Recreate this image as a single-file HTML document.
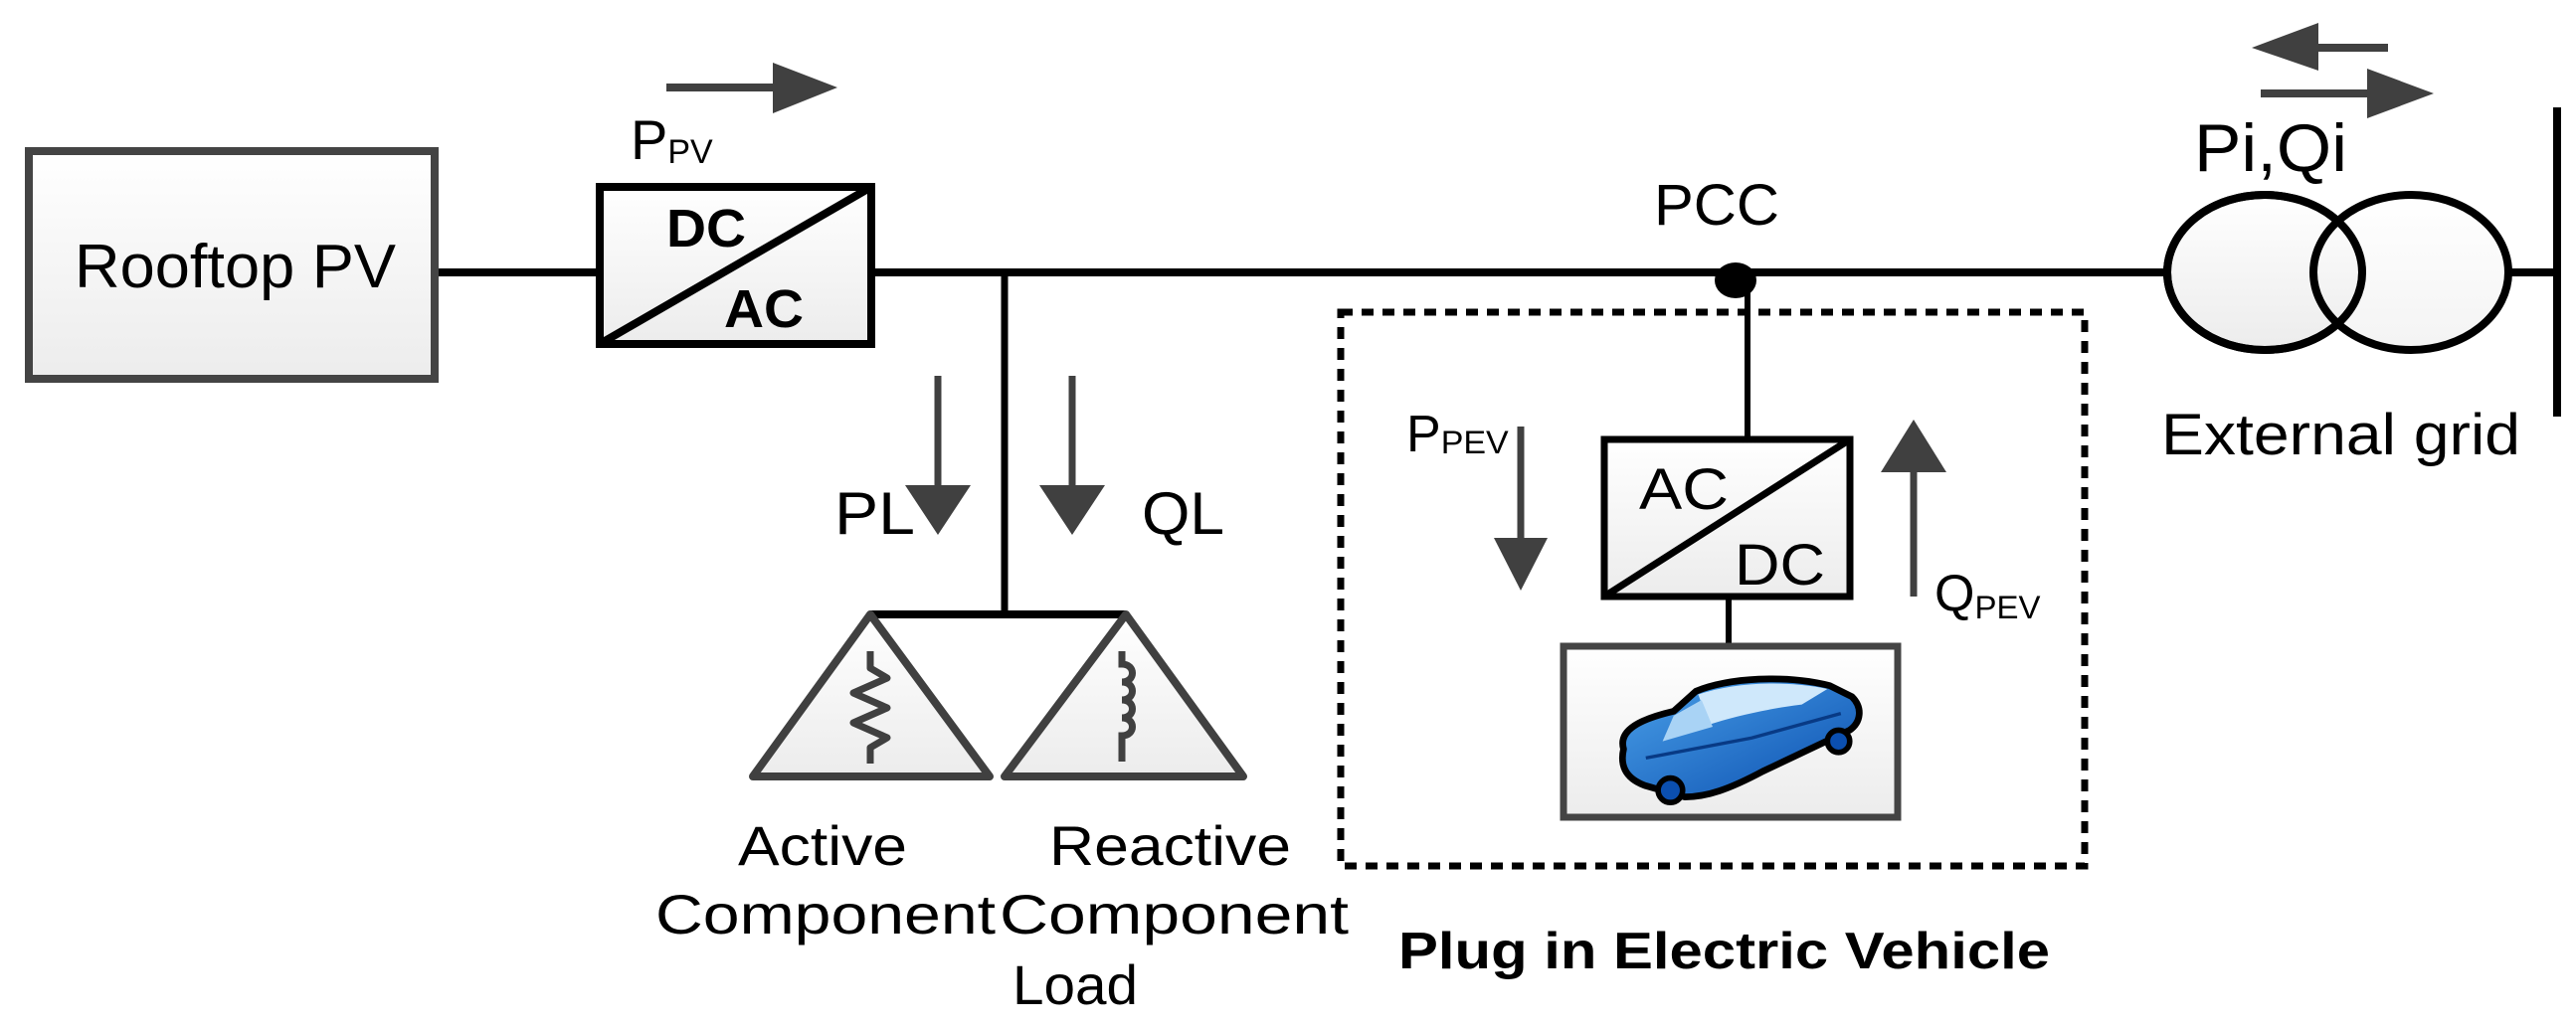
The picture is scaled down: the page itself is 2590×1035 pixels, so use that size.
<!DOCTYPE html>
<html><head><meta charset="utf-8"><style>html,body{margin:0;padding:0;background:#fff}svg{display:block}</style></head>
<body>
<svg width="2590" height="1035" viewBox="0 0 2590 1035" xmlns="http://www.w3.org/2000/svg" font-family="Liberation Sans, sans-serif">
<defs>
<linearGradient id="g" x1="0" y1="0" x2="0" y2="1"><stop offset="0" stop-color="#ffffff"/><stop offset="1" stop-color="#ececec"/></linearGradient>
<linearGradient id="cb" x1="0" y1="0" x2="1" y2="1"><stop offset="0" stop-color="#4aa0e8"/><stop offset="1" stop-color="#0b4fb0"/></linearGradient>
</defs>
<line x1="437" y1="274" x2="603" y2="274" stroke="#000" stroke-width="8"/>
<line x1="876" y1="274" x2="2180" y2="274" stroke="#000" stroke-width="8"/>
<line x1="2522" y1="274" x2="2571" y2="274" stroke="#000" stroke-width="8"/>
<line x1="2571" y1="108" x2="2571" y2="419" stroke="#000" stroke-width="8"/>
<rect x="29" y="152" width="408" height="229" fill="url(#g)" stroke="#444" stroke-width="8"/>
<text x="75" y="289" font-size="62" textLength="323" lengthAdjust="spacingAndGlyphs" fill="#000">Rooftop PV</text>
<rect x="603" y="188" width="273" height="158" fill="url(#g)" stroke="#000" stroke-width="8"/>
<line x1="603" y1="346" x2="876" y2="188" stroke="#000" stroke-width="8"/>
<text x="670" y="248" font-size="54" font-weight="bold" textLength="80" lengthAdjust="spacingAndGlyphs">DC</text>
<text x="728" y="329" font-size="54" font-weight="bold" textLength="80" lengthAdjust="spacingAndGlyphs">AC</text>
<text x="634" y="160" font-size="56">P<tspan font-size="34" dy="4">PV</tspan></text>
<line x1="670" y1="88" x2="790" y2="88" stroke="#404040" stroke-width="8"/>
<polygon points="777,63 842,88 777,114" fill="#404040"/>
<line x1="1010" y1="274" x2="1010" y2="618" stroke="#000" stroke-width="7"/>
<line x1="875" y1="618" x2="1132" y2="618" stroke="#000" stroke-width="8"/>
<polygon points="875,618 995,781 757,781" fill="url(#g)" stroke="#404040" stroke-width="8" stroke-linejoin="round"/>
<polygon points="1132,618 1250,781 1010,781" fill="url(#g)" stroke="#404040" stroke-width="8" stroke-linejoin="round"/>
<polyline points="875,655 875,672 892,682 858,697 892,712 858,727 892,742 875,752 875,768" fill="none" stroke="#404040" stroke-width="7" stroke-linejoin="round"/>
<path d="M1128,655 L1128,668 c14,0 14,18 0,18 c14,0 14,18 0,18 c14,0 14,18 0,18 c14,0 14,18 0,18 L1128,766" fill="none" stroke="#404040" stroke-width="7"/>
<line x1="943" y1="378" x2="943" y2="495" stroke="#404040" stroke-width="7"/>
<polygon points="910,488 976,488 943,538" fill="#404040"/>
<line x1="1078" y1="378" x2="1078" y2="495" stroke="#404040" stroke-width="7"/>
<polygon points="1045,488 1111,488 1078,538" fill="#404040"/>
<text x="839" y="537" font-size="60" textLength="81" lengthAdjust="spacingAndGlyphs">PL</text>
<text x="1148" y="537" font-size="60" textLength="83" lengthAdjust="spacingAndGlyphs">QL</text>
<text x="742" y="870" font-size="56" textLength="170" lengthAdjust="spacingAndGlyphs">Active</text>
<text x="1055" y="870" font-size="56" textLength="243" lengthAdjust="spacingAndGlyphs">Reactive</text>
<text x="659" y="939" font-size="56" textLength="342" lengthAdjust="spacingAndGlyphs">Component</text>
<text x="1005" y="939" font-size="56" textLength="351" lengthAdjust="spacingAndGlyphs">Component</text>
<text x="1018" y="1010" font-size="56" textLength="126" lengthAdjust="spacingAndGlyphs">Load</text>
<text x="1663" y="226" font-size="58" textLength="126" lengthAdjust="spacingAndGlyphs">PCC</text>
<ellipse cx="1745" cy="282" rx="21" ry="18" fill="#000"/>
<rect x="1348" y="314" width="748" height="557" fill="none" stroke="#000" stroke-width="7" stroke-dasharray="12,9"/>
<line x1="1757" y1="282" x2="1757" y2="442" stroke="#000" stroke-width="6"/>
<rect x="1613" y="442" width="247" height="158" fill="url(#g)" stroke="#000" stroke-width="7"/>
<line x1="1613" y1="600" x2="1860" y2="442" stroke="#000" stroke-width="7"/>
<text x="1648" y="512" font-size="58" textLength="90" lengthAdjust="spacingAndGlyphs">AC</text>
<text x="1744" y="588" font-size="58" textLength="91" lengthAdjust="spacingAndGlyphs">DC</text>
<line x1="1738" y1="600" x2="1738" y2="650" stroke="#000" stroke-width="6"/>
<rect x="1572" y="650" width="336" height="172" fill="url(#g)" stroke="#444" stroke-width="7"/>
<g transform="translate(1750,740) scale(1.12) translate(-1750,-740)">
<path d="M1645,752 C1640,735 1660,725 1690,718 L1710,700 C1740,688 1790,685 1830,695 L1850,705 C1860,715 1858,728 1848,735 L1770,772 C1740,788 1720,795 1700,795 L1665,785 C1645,778 1642,765 1645,752 Z" fill="url(#cb)" stroke="#000" stroke-width="6" stroke-linejoin="round"/>
<path d="M1712,703 C1745,692 1790,690 1828,698 L1805,712 C1780,715 1745,722 1722,730 Z" fill="#cfe8fb"/>
<path d="M1690,722 L1715,708 L1725,732 L1680,745 Z" fill="#a9d3f5"/>
<path d="M1665,760 L1760,742 L1840,720" fill="none" stroke="#083a85" stroke-width="3"/>
<circle cx="1687" cy="789" r="11" fill="#0b4fb0" stroke="#000" stroke-width="5"/>
<circle cx="1838" cy="745" r="10" fill="#0b4fb0" stroke="#000" stroke-width="5"/>
</g>
<text x="1414" y="454" font-size="52">P<tspan font-size="32" dy="2" textLength="68" lengthAdjust="spacingAndGlyphs">PEV</tspan></text>
<line x1="1529" y1="429" x2="1529" y2="550" stroke="#404040" stroke-width="7"/>
<polygon points="1502,541 1556,541 1529,594" fill="#404040"/>
<line x1="1924" y1="600" x2="1924" y2="468" stroke="#404040" stroke-width="7"/>
<polygon points="1891,475 1957,475 1924,422" fill="#404040"/>
<text x="1945" y="614" font-size="52">Q<tspan font-size="32" dy="8" textLength="66" lengthAdjust="spacingAndGlyphs">PEV</tspan></text>
<text x="1406" y="974" font-size="52" font-weight="bold" textLength="655" lengthAdjust="spacingAndGlyphs">Plug in Electric Vehicle</text>
<ellipse cx="2277" cy="274" rx="98" ry="78" fill="url(#g)" stroke="#000" stroke-width="8"/>
<ellipse cx="2424" cy="274" rx="98" ry="78" fill="url(#g)" fill-opacity="0.6" stroke="#000" stroke-width="8"/>
<ellipse cx="2277" cy="274" rx="98" ry="78" fill="none" stroke="#000" stroke-width="8"/>
<text x="2206" y="172" font-size="68" textLength="154" lengthAdjust="spacingAndGlyphs">Pi,Qi</text>
<text x="2173" y="457" font-size="58" textLength="361" lengthAdjust="spacingAndGlyphs">External grid</text>
<line x1="2401" y1="48" x2="2320" y2="48" stroke="#404040" stroke-width="8"/>
<polygon points="2331,23 2264,48 2331,71" fill="#404040"/>
<line x1="2273" y1="94" x2="2390" y2="94" stroke="#404040" stroke-width="8"/>
<polygon points="2380,69 2447,94 2380,119" fill="#404040"/>
</svg>
</body></html>
